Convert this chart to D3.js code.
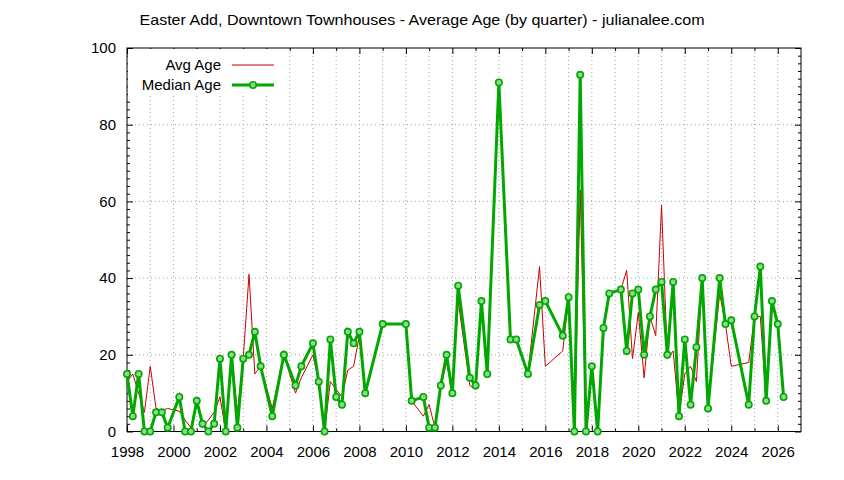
<!DOCTYPE html>
<html>
<head>
<meta charset="utf-8">
<script src="https://cdn.jsdelivr.net/npm/d3@7"></script>
<style>
  html, body { margin: 0; padding: 0; background: #fff; }
  svg { display: block; font-family: "Liberation Sans", Arial, sans-serif; }
</style>
</head>
<body>
<svg id="chart" width="844" height="480"></svg>
<script>
// ---- data (quarter start, as decimal year) ----
const quarters = [
  1998.00, 1998.25, 1998.50, 1998.75, 1999.00, 1999.25, 1999.50, 1999.75,
  2000.25, 2000.50, 2000.75, 2001.00, 2001.25, 2001.50, 2001.75,
  2002.00, 2002.25, 2002.50, 2002.75, 2003.00, 2003.25, 2003.50, 2003.75,
  2004.25, 2004.75, 2005.25, 2005.50,
  2006.00, 2006.25, 2006.50, 2006.75, 2007.00, 2007.25, 2007.50, 2007.75,
  2008.00, 2008.25, 2009.00, 2010.00, 2010.25, 2010.75,
  2011.00, 2011.25, 2011.50, 2011.75, 2012.00, 2012.25, 2012.75,
  2013.00, 2013.25, 2013.50, 2014.00, 2014.50, 2014.75,
  2015.25, 2015.75, 2016.00, 2016.75,
  2017.00, 2017.25, 2017.50, 2017.75, 2018.00, 2018.25, 2018.50, 2018.75,
  2019.25, 2019.50, 2019.75, 2020.00, 2020.25, 2020.50, 2020.75,
  2021.00, 2021.25, 2021.50, 2021.75, 2022.00, 2022.25, 2022.50, 2022.75,
  2023.00, 2023.50, 2023.75, 2024.00, 2024.75,
  2025.00, 2025.25, 2025.50, 2025.75, 2026.00, 2026.25
];
const avgAge = [
  13, 15, 10, 5, 17, 6, 5.5, 6,
  5.3, 3, 1, 8, 1, 3, 5,
  9, 0, 20, 5, 19, 41, 15, 17,
  6, 20, 10, 14,
  20, 13, 0, 13, 11, 9, 16, 17,
  25, 10, 28, 28, 8, 4,
  7, 1, 12, 18, 10, 34, 12,
  11, 34, 15, 91, 24, 24,
  15, 43, 17, 21,
  35, 0, 63, 0, 17, 0, 27, 36,
  37, 42, 19, 31, 14, 30, 25,
  59, 19, 21, 4, 15, 17, 13, 40,
  6, 36, 28, 17, 18,
  30, 30, 8, 34, 28, 9
];
const medianAge = [
  15, 4, 15, 0, 0, 5, 5, 1,
  9, 0, 0, 8, 2, 0, 2,
  19, 0, 20, 1, 19, 20, 26, 17,
  4, 20, 12, 17,
  23, 13, 0, 24, 9, 7, 26, 23,
  26, 10, 28, 28, 8, 9,
  1, 1, 12, 20, 10, 38, 14,
  12, 34, 15, 91, 24, 24,
  15, 33, 34, 25,
  35, 0, 93, 0, 17, 0, 27, 36,
  37, 21, 36, 37, 20, 30, 37,
  39, 20, 39, 4, 24, 7, 22, 40,
  6, 40, 28, 29, 7,
  30, 43, 8, 34, 28, 9
];
const xMajorTicks = [1998, 2000, 2002, 2004, 2006, 2008, 2010, 2012, 2014, 2016, 2018, 2020, 2022, 2024, 2026];
const xMinorTicks = [1999, 2001, 2003, 2005, 2007, 2009, 2011, 2013, 2015, 2017, 2019, 2021, 2023, 2025];
const yMajorTicks = [0, 20, 40, 60, 80, 100];
const titleText = "Easter Add, Downtown Townhouses - Average Age (by quarter) - julianalee.com";
const seriesNames = ["Avg Age", "Median Age"];

// ---- layout ----
const svg = d3.select("#chart");
const L = 127, R = 801, T = 48, B = 431.5;
const x = d3.scaleLinear().domain([1998, 2027]).range([L, R]);
const y = d3.scaleLinear().domain([0, 100]).range([B, T]);
const yMinor = d3.range(0, 101, 2).filter(v => v % 20 !== 0);

const avgColor = "#cc0000";
const medColor = "#00a800";

// grid
const grid = svg.append("g").attr("stroke", "#a0a0a0").attr("stroke-width", 1)
  .attr("stroke-dasharray", "1,3");
grid.selectAll("line.vx").data(xMajorTicks.concat(xMinorTicks).filter(v => v > 1998))
  .join("line").attr("x1", d => x(d)).attr("x2", d => x(d)).attr("y1", T).attr("y2", B);
grid.selectAll("line.hy").data(yMajorTicks.filter(v => v > 0 && v < 100))
  .join("line").attr("x1", L).attr("x2", R).attr("y1", d => y(d)).attr("y2", d => y(d));

// axes (inward ticks, mirrored)
function styleAxis(g) {
  g.select(".domain").remove();
  g.selectAll(".tick line").attr("stroke", "#000").attr("stroke-width", 1);
  g.selectAll(".tick text").attr("fill", "#000").style("font-size", "15px")
    .style("font-family", '"Liberation Sans", Arial, sans-serif');
}
svg.append("g").attr("transform", `translate(0,${B})`)
  .call(d3.axisBottom(x).tickValues(xMajorTicks).tickSize(-6).tickPadding(15).tickFormat(d3.format("d")))
  .call(styleAxis);
svg.append("g").attr("transform", `translate(0,${B})`)
  .call(d3.axisBottom(x).tickValues(xMinorTicks).tickSize(-3).tickFormat(""))
  .call(styleAxis);
svg.append("g").attr("transform", `translate(0,${T})`)
  .call(d3.axisTop(x).tickValues(xMajorTicks).tickSize(-6).tickFormat(""))
  .call(styleAxis);
svg.append("g").attr("transform", `translate(0,${T})`)
  .call(d3.axisTop(x).tickValues(xMinorTicks).tickSize(-3).tickFormat(""))
  .call(styleAxis);
svg.append("g").attr("transform", `translate(${L},0)`)
  .call(d3.axisLeft(y).tickValues(yMajorTicks).tickSize(-6).tickPadding(11))
  .call(styleAxis);
svg.append("g").attr("transform", `translate(${L},0)`)
  .call(d3.axisLeft(y).tickValues(yMinor).tickSize(-3).tickFormat(""))
  .call(styleAxis);
svg.append("g").attr("transform", `translate(${R},0)`)
  .call(d3.axisRight(y).tickValues(yMajorTicks).tickSize(-6).tickFormat(""))
  .call(styleAxis);
svg.append("g").attr("transform", `translate(${R},0)`)
  .call(d3.axisRight(y).tickValues(yMinor).tickSize(-3).tickFormat(""))
  .call(styleAxis);

// border
svg.append("rect").attr("x", L).attr("y", T).attr("width", R - L).attr("height", B - T)
  .attr("fill", "none").attr("stroke", "#000").attr("stroke-width", 1);

// series
const pts = quarters.map((q, i) => ({ q, avg: avgAge[i], med: medianAge[i] }));
const avgLine = d3.line().x(d => x(d.q)).y(d => y(d.avg));
const medLine = d3.line().x(d => x(d.q)).y(d => y(d.med));

// legend (opaque key)
svg.append("rect").attr("x", L + 1).attr("y", T + 1).attr("width", 154).attr("height", 46).attr("fill", "#fff");

const plot = svg.append("g");
plot.append("path").datum(pts).attr("d", avgLine).attr("fill", "none")
  .attr("stroke", avgColor).attr("stroke-width", 1).attr("stroke-linejoin", "miter");
plot.append("path").datum(pts).attr("d", medLine).attr("fill", "none")
  .attr("stroke", medColor).attr("stroke-width", 3).attr("stroke-linejoin", "miter");
plot.selectAll("circle").data(pts).join("circle")
  .attr("cx", d => x(d.q)).attr("cy", d => y(d.med)).attr("r", 3.2)
  .attr("fill", "#8fd88f").attr("stroke", medColor).attr("stroke-width", 1.6);

const leg = svg.append("g").style("font-size", "15px");
leg.append("text").attr("x", 221).attr("y", 70).attr("text-anchor", "end").text(seriesNames[0]);
leg.append("line").attr("x1", 232).attr("x2", 274).attr("y1", 65).attr("y2", 65)
  .attr("stroke", avgColor).attr("stroke-width", 1);
leg.append("text").attr("x", 221).attr("y", 90).attr("text-anchor", "end").text(seriesNames[1]);
leg.append("line").attr("x1", 232).attr("x2", 274).attr("y1", 85).attr("y2", 85)
  .attr("stroke", medColor).attr("stroke-width", 3);
leg.append("circle").attr("cx", 253).attr("cy", 85).attr("r", 3.2)
  .attr("fill", "#8fd88f").attr("stroke", medColor).attr("stroke-width", 1.6);

// title
svg.append("text").attr("x", 422).attr("y", 25).attr("text-anchor", "middle")
  .style("font-size", "15px").attr("textLength", 565).attr("lengthAdjust", "spacingAndGlyphs")
  .text(titleText);
</script>
</body>
</html>
